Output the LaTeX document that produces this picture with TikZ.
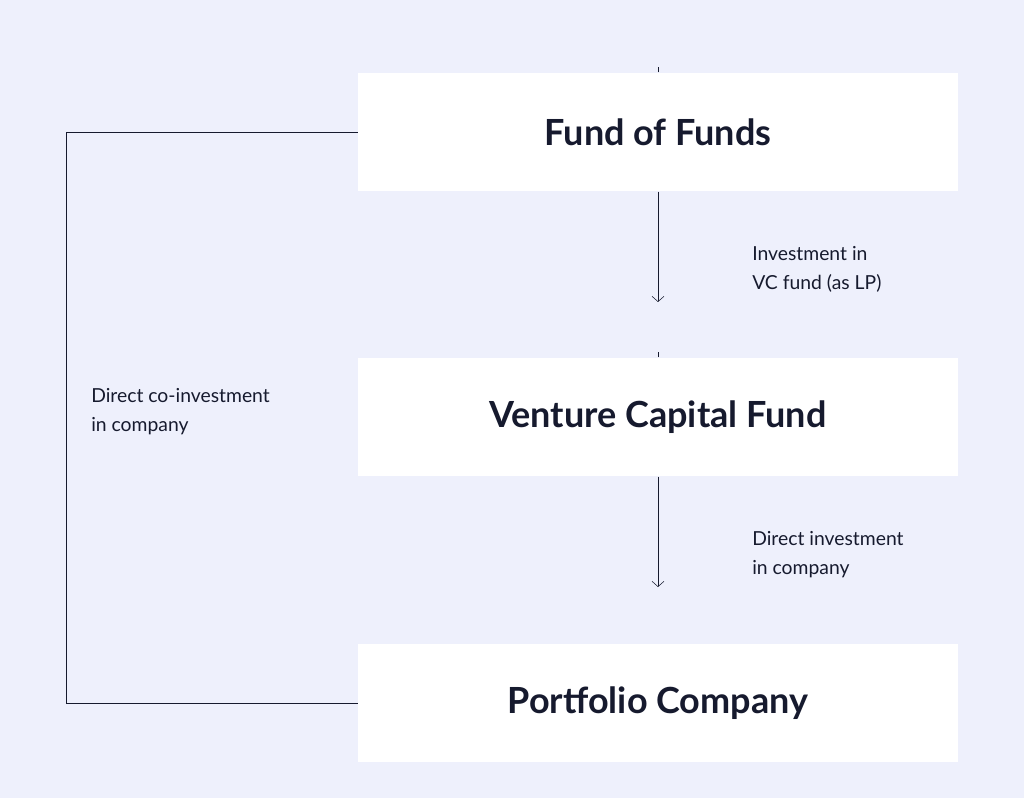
\documentclass[tikz,border=0pt]{standalone}
\usepackage{fontspec}
\setmainfont{Lato}
\usetikzlibrary{positioning, arrows.meta}
\definecolor{bg}{HTML}{EEF0FC}
\definecolor{ink}{HTML}{161A2E}
\begin{document}
\begin{tikzpicture}[x=0.75pt, y=-0.75pt,
	b/.style={fill=white, draw=none, minimum width=450pt, minimum height=89pt, font=\fontsize{27}{30}\selectfont\bfseries, text=ink},
	l/.style={align=left, anchor=north west, font=\fontsize{14.5}{21.5}\selectfont, text=ink, inner sep=0pt},
	a/.style={-{Straight Barb[length=4pt, width=9pt]}, thin, ink}]
	\fill[bg] (0,0) rectangle (1024,798);
	\useasboundingbox (0,0) rectangle (1024,798);

	\node[b] (a) at (658,132) {Fund of Funds};
	\node[b] (b) at (658,417) {Venture Capital Fund};
	\node[b] (c) at (658,703) {Portfolio Company};

	\coordinate (p) at (658,302);
	\coordinate (q) at (658,587);
	\coordinate (u) at (66,132);
	\coordinate (v) at (66,703);

	\draw[a] (a.south) -- (p);
	\draw[a] (b.south) -- (q);
	\draw[thin, ink] (a.west) -- (u) -- (v) -- (c.west);
	\draw[thin, ink] (a.north) -- ++(0,-5);
	\draw[thin, ink] (b.north) -- ++(0,-5);

	\node[l] (la) at (752,246) {Investment in\\VC fund (as LP)};
	\node[l] (lb) at (752,531) {Direct investment\\in company};
	\node[l] (lc) at (91,388) {Direct co-investment\\in company};
\end{tikzpicture}
\end{document}
